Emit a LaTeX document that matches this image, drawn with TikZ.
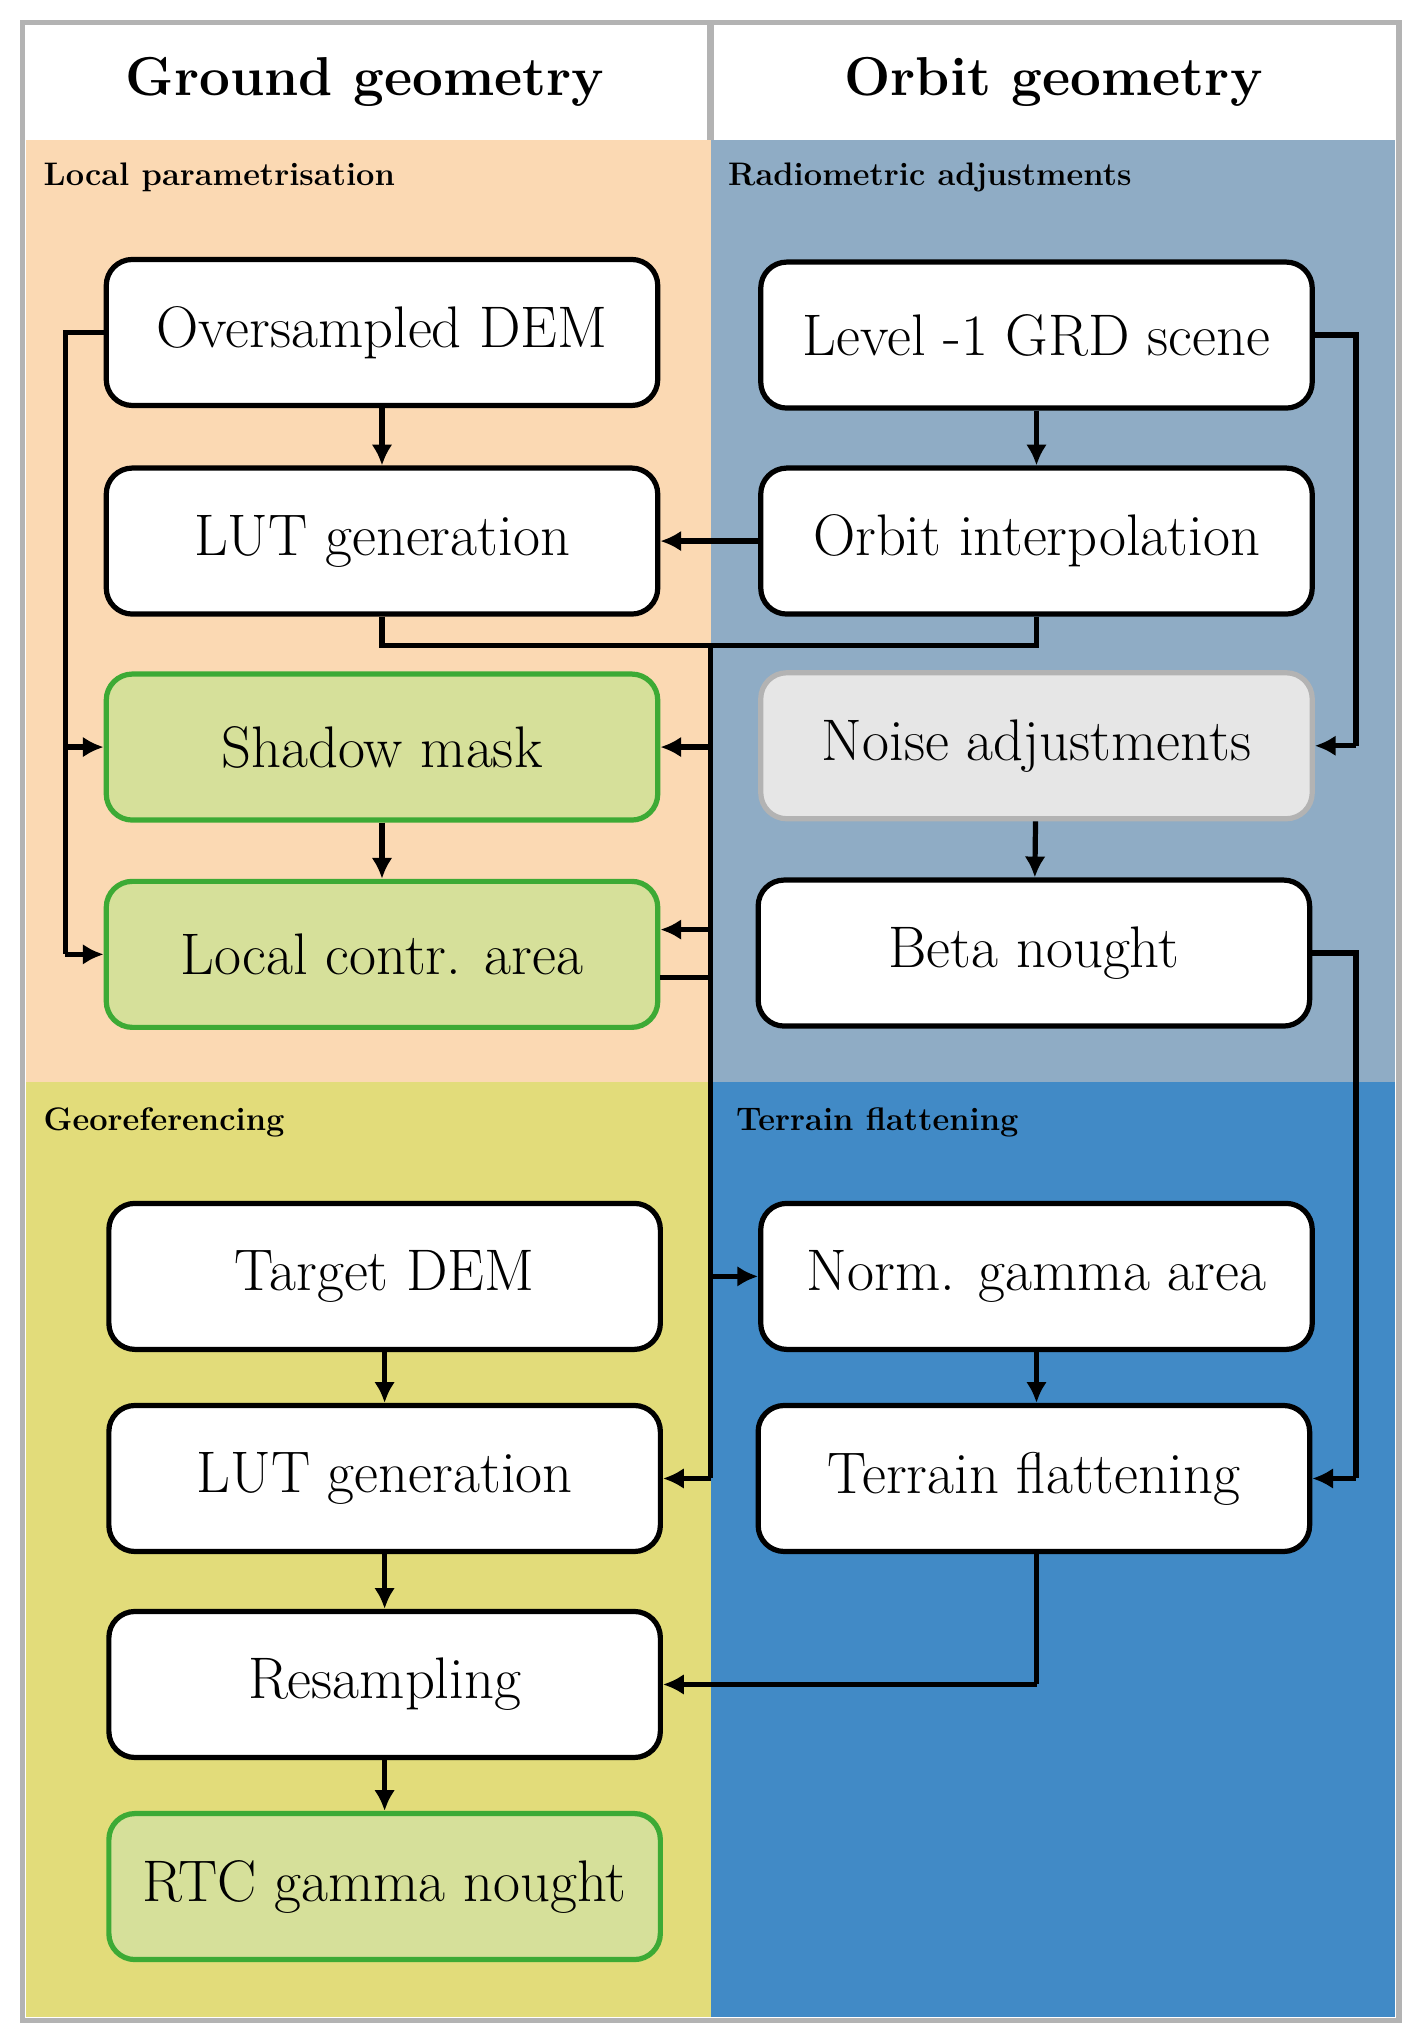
\documentclass[tikz,border=0pt]{standalone}
\usetikzlibrary{arrows.meta}
\definecolor{orng}{HTML}{FBD9B3}
\definecolor{gblue}{HTML}{8FACC5}
\definecolor{yel}{HTML}{E2DC7A}
\definecolor{blu}{HTML}{418AC6}
\definecolor{grn}{HTML}{3DAA35}
\definecolor{lgrn}{HTML}{D6E09A}
\definecolor{gbord}{HTML}{B3B3B3}
\definecolor{gfill}{HTML}{E6E6E6}
\begin{document}
\begin{tikzpicture}[x=1pt,y=-1pt,
 box/.style={draw=black,line width=4pt,fill=white,rounded corners=20pt,minimum width=423pt,minimum height=112pt,inner sep=0pt,font=\fontsize{45}{50}\selectfont},
 gbox/.style={box,draw=grn,fill=lgrn},
 nbox/.style={box,draw=gbord,fill=gfill},
 hdr/.style={font=\fontsize{42}{46}\selectfont\bfseries},
 sec/.style={anchor=west,font=\fontsize{25}{29}\selectfont\bfseries},
 ln/.style={line width=4pt},
 ar/.style={line width=4pt,-{Latex[length=16pt,width=16pt]}}]
\useasboundingbox (0,0) rectangle (1090,1567);
\fill[white] (0,0) rectangle (1090,1567);
\fill[orng] (20,107) rectangle (545,830);
\fill[gblue] (545,107) rectangle (1070,830);
\fill[yel] (20,830) rectangle (545,1547);
\fill[blu] (545,830) rectangle (1070,1547);
\draw[gbord,line width=4pt] (17,17) rectangle (1073,1550);
\draw[gbord,line width=5pt] (545,17) -- (545,107);
\node[hdr] (h1) at (280,63) {Ground geometry};
\node[hdr] (h2) at (808,63) {Orbit geometry};
\node[sec] (s1) at (30,136) {Local parametrisation};
\node[sec] (s2) at (555,136) {Radiometric adjustments};
\node[sec] (s3) at (30,861) {Georeferencing};
\node[sec] (s4) at (561,861) {Terrain flattening};

\node[box] (odem) at (293,255) {Oversampled DEM};
\node[box] (lut1) at (293,415) {LUT generation};
\node[gbox] (sm) at (293,573) {Shadow mask};
\node[gbox] (lca) at (293,732) {Local contr. area};
\node[box] (tdem) at (295,979) {Target DEM};
\node[box] (lut2) at (295,1134) {LUT generation};
\node[box] (res) at (295,1292) {Resampling};
\node[gbox] (rtc) at (295,1447) {RTC gamma nought};
\node[box] (grd) at (795,257) {Level -1 GRD scene};
\node[box] (oi) at (795,415) {Orbit interpolation};
\node[nbox] (na) at (795,572) {Noise adjustments};
\node[box] (bn) at (793,731) {Beta nought};
\node[box] (nga) at (795,979) {Norm. gamma area};
\node[box] (tf) at (793,1134) {Terrain flattening};

\coordinate (j1) at (545,495);
\draw[ar] (odem) -- (lut1);
\draw[ar] (sm) -- (lca);
\draw[ar] (tdem) -- (lut2);
\draw[ar] (lut2) -- (res);
\draw[ar] (res) -- (rtc);
\draw[ar] (grd) -- (oi);
\draw[ar] (na) -- (bn);
\draw[ar] (nga.south) -- (tf.north -| nga.south);
\draw[ar] (oi) -- (lut1);
\draw[ln] (odem.west) -- (50,255) -- (50,732);
\draw[ar] (50,573) -- (sm.west);
\draw[ar] (50,732) -- (lca.west);
\draw[ln] (lut1.south) -- (293,495) -- (795,495) -- (oi.south);
\draw[ln] (j1) -- (545,1134);
\draw[ar] (545,573) -- (sm.east);
\draw[ar] (545,713) -- (lca.east |- 0,713);
\draw[ln] (lca.east |- 0,750) -- (545,750);
\draw[ar] (545,979) -- (nga.west);
\draw[ar] (545,1134) -- (lut2.east);
\draw[ln] (grd.east) -- (1040,257) -- (1040,572);
\draw[ar] (1040,572) -- (na.east);
\draw[ln] (bn.east) -- (1040,731) -- (1040,1134);
\draw[ar] (1040,1134) -- (tf.east);
\draw[ln] (tf.south -| 795,0) -- (795,1292);
\draw[ar] (795,1292) -- (res.east);
\end{tikzpicture}
\end{document}
